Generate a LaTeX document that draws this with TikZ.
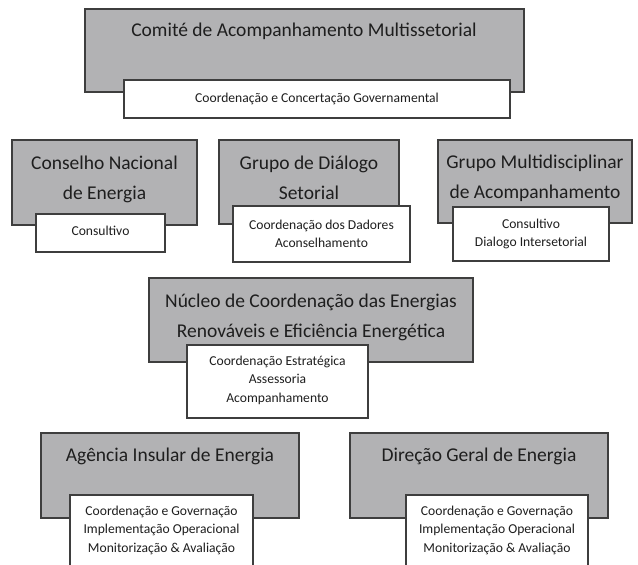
\documentclass[tikz,border=0pt]{standalone}
\usepackage{fontspec}
\setmainfont{Carlito}
\usetikzlibrary{positioning}
\definecolor{boxgray}{RGB}{178,178,180}
\definecolor{edge}{RGB}{62,62,62}
\definecolor{ink}{RGB}{30,30,30}

\begin{document}
\begin{tikzpicture}[x=1pt,y=-1pt,
  outer/.style={draw=edge,line width=2pt,fill=boxgray,inner sep=0pt},
  inner/.style={draw=edge,line width=1.5pt,fill=white,inner sep=0pt},
  head/.style={text=ink,align=center,font=\fontsize{19.5}{30}\selectfont,inner sep=0pt},
  sub/.style={text=ink,align=center,font=\fontsize{13.6}{18.5}\selectfont,inner sep=0pt}
]
\clip (0,0) rectangle (638,565);

% top level
\node[outer,minimum width=439pt,minimum height=83pt] (cam) at (304.5,50.5) {};
\node[inner,minimum width=386pt,minimum height=38pt] (cam-sub) at (317,99) {};
\node[head] (cam-t) at (304,31) {Comité de Acompanhamento Multissetorial};
\node[sub] (cam-s) at (cam-sub) {Coordenação e Concertação Governamental};

% second row
\node[outer,minimum width=185pt,minimum height=85pt] (cne) at (104.5,182.5) {};
\node[inner,minimum width=129pt,minimum height=38pt] (cne-sub) at (100.5,233) {};
\node[head] (cne-t) at (104.5,179) {Conselho Nacional\\de Energia};
\node[sub] (cne-s) at (100.5,231) {Consultivo};

\node[outer,minimum width=180pt,minimum height=84pt] (gds) at (309,182) {};
\node[inner,minimum width=177pt,minimum height=56pt] (gds-sub) at (321.5,234) {};
\node[head] (gds-t) at (309,178) {Grupo de Diálogo\\Setorial};
\node[sub] (gds-s) at (gds-sub) {Coordenação dos Dadores\\Aconselhamento};

\node[outer,minimum width=194pt,minimum height=83pt] (gma) at (535,181.5) {};
\node[inner,minimum width=156pt,minimum height=54pt] (gma-sub) at (531,234) {};
\node[head] (gma-t) at (535,178) {Grupo Multidisciplinar\\de Acompanhamento};
\node[sub] (gma-s) at (gma-sub) {Consultivo\\Dialogo Intersetorial};

% third row
\node[outer,minimum width=324pt,minimum height=84pt] (nucleo) at (311,320) {};
\node[inner,minimum width=181pt,minimum height=73pt] (nucleo-sub) at (277.5,381.5) {};
\node[head] (nucleo-t) at (311,317) {Núcleo de Coordenação das Energias\\Renováveis e Eficiência Energética};
\node[sub] (nucleo-s) at (277.5,380) {Coordenação Estratégica\\Assessoria\\Acompanhamento};

% bottom row
\node[outer,minimum width=258pt,minimum height=85pt] (aie) at (170,475.5) {};
\node[inner,minimum width=183pt,minimum height=85pt] (aie-sub) at (161.5,537.5) {};
\node[head] (aie-t) at (170,456) {Agência Insular de Energia};
\node[sub] (aie-s) at (161.5,530) {Coordenação e Governação\\Implementação Operacional\\Monitorização \& Avaliação};

\node[outer,minimum width=258pt,minimum height=85pt] (dge) at (479,475.5) {};
\node[inner,minimum width=182pt,minimum height=85pt] (dge-sub) at (497,537.5) {};
\node[head] (dge-t) at (479,456) {Direção Geral de Energia};
\node[sub] (dge-s) at (497,530) {Coordenação e Governação\\Implementação Operacional\\Monitorização \& Avaliação};
\end{tikzpicture}
\end{document}
